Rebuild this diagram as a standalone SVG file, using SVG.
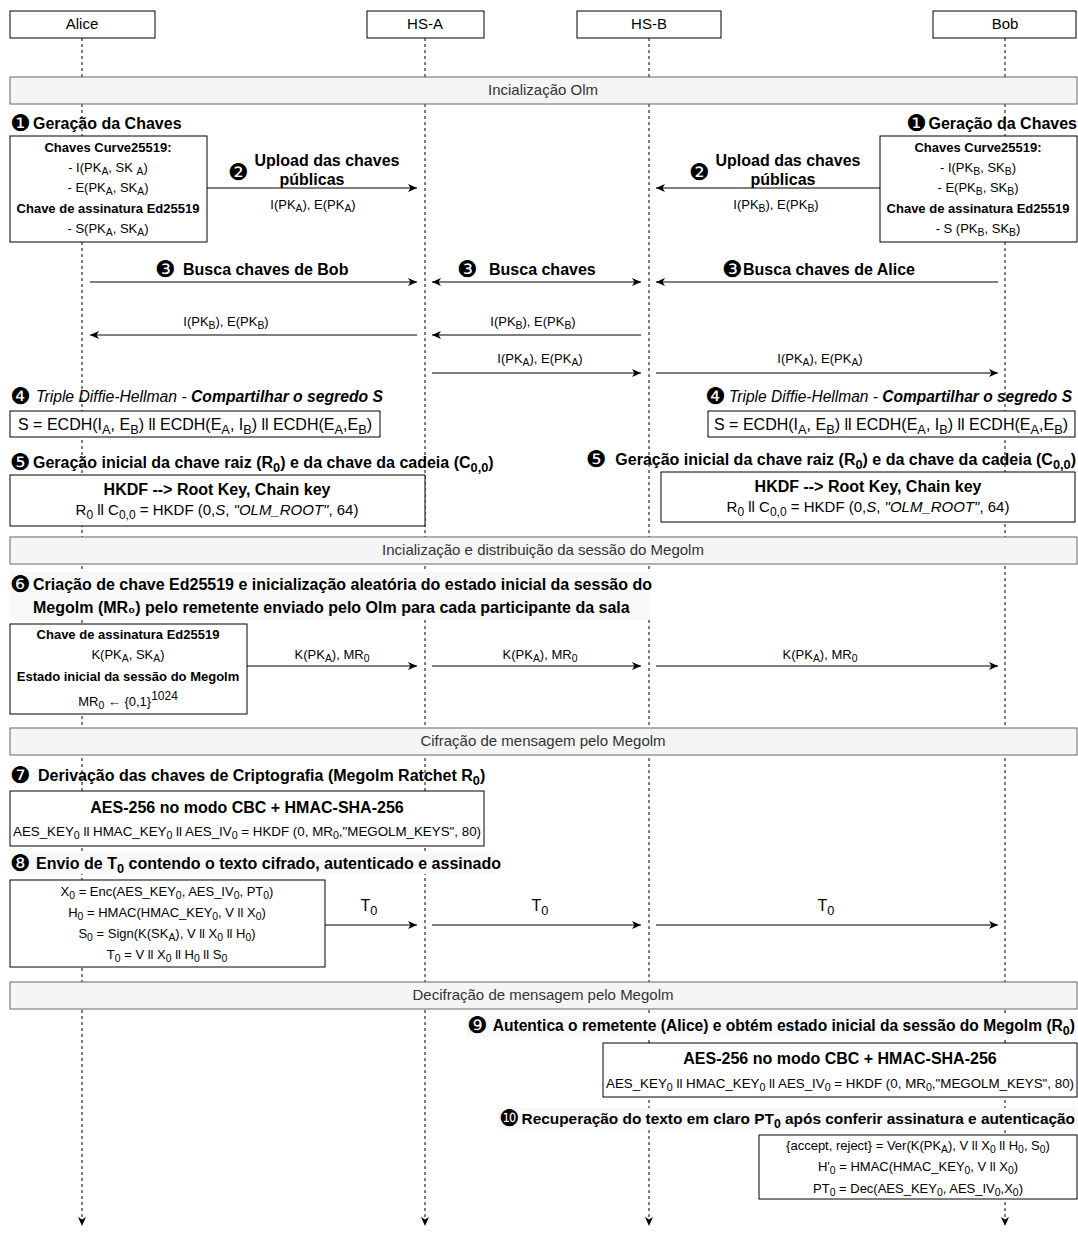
<svg xmlns="http://www.w3.org/2000/svg" width="1078" height="1233" viewBox="0 0 1078 1233">
<style>
  text { font-family: "Liberation Sans", Arial, sans-serif; fill: #000; }
  .hdr { font-size: 15px; text-anchor: middle; }
  .bar { font-size: 15px; text-anchor: middle; fill: #333; }
  .bartxt { fill: #f5f5f5; stroke: #666; stroke-width: 1; }
  .box { fill: #fff; stroke: #000; stroke-width: 1; }
  .ttl { font-size: 16px; font-weight: bold; }
  .num { font-family: "DejaVu Sans", sans-serif; font-size: 23px; }
  .bl { font-size: 13px; text-anchor: middle; }
  .b { font-weight: bold; }
  .c { text-anchor: middle; }
  .lbl { font-size: 13px; text-anchor: middle; }
  .sb { font-size: 80%; baseline-shift: -0.3em; }
  .sp { font-size: 12px; baseline-shift: 6px; }
  .life { stroke: #000; stroke-width: 1; stroke-dasharray: 3 3; fill: none; }
  .msg { stroke: #000; stroke-width: 1; fill: none; marker-end: url(#arr); }
  .tbg { fill: #f8f8f8; }
</style>
<defs>
  <marker id="arr" markerUnits="userSpaceOnUse" markerWidth="10" markerHeight="10" refX="9" refY="5" orient="auto-start-reverse">
    <path d="M0,1 L9,5 L0,9 L2.5,5 z" fill="#000"/>
  </marker>
</defs>
<rect width="1078" height="1233" fill="#fff"/>

<!-- lifelines -->
<g id="lifelines">
  <line class="life" x1="82" y1="38" x2="82" y2="1226" marker-end="url(#arr)"/>
  <line class="life" x1="425" y1="38" x2="425" y2="1226" marker-end="url(#arr)"/>
  <line class="life" x1="649" y1="38" x2="649" y2="1226" marker-end="url(#arr)"/>
  <line class="life" x1="1005" y1="38" x2="1005" y2="1226" marker-end="url(#arr)"/>
</g>

<!-- participants -->
<g id="alice"><rect class="box" x="10" y="11" width="145" height="27"/><text class="hdr" x="82" y="29">Alice</text></g>
<g id="hs-a"><rect class="box" x="367" y="11" width="117" height="27"/><text class="hdr" x="425" y="29">HS-A</text></g>
<g id="hs-b"><rect class="box" x="577" y="11" width="144" height="27"/><text class="hdr" x="649" y="29">HS-B</text></g>
<g id="bob"><rect class="box" x="933" y="11" width="143" height="27"/><text class="hdr" x="1005" y="29">Bob</text></g>

<!-- phase bars -->
<g id="bar-olm"><rect class="bartxt" x="10" y="77" width="1067" height="27"/><text class="bar" x="543" y="95">Incialização Olm</text></g>
<g id="bar-megolm-init"><rect class="bartxt" x="10" y="537" width="1067" height="27"/><text class="bar" x="543" y="555">Incialização e distribuição da sessão do Megolm</text></g>
<g id="bar-enc"><rect class="bartxt" x="10" y="728" width="1067" height="27"/><text class="bar" x="543" y="746">Cifração de mensagem pelo Megolm</text></g>
<g id="bar-dec"><rect class="bartxt" x="10" y="982" width="1067" height="27"/><text class="bar" x="543" y="1000">Decifração de mensagem pelo Megolm</text></g>

<!-- step 1: key generation -->
<g id="step1-alice">
  <text x="10" y="131" class="num">❶</text>
  <text x="33" y="129" class="ttl">Geração da Chaves</text>
  <rect class="box" x="10" y="136" width="197" height="106"/>
  <text class="bl b" x="108" y="152">Chaves Curve25519:</text>
  <text class="bl" x="108" y="172">- I(PK<tspan class="sb">A</tspan>, SK <tspan class="sb">A</tspan>)</text>
  <text class="bl" x="108" y="192">- E(PK<tspan class="sb">A</tspan>, SK<tspan class="sb">A</tspan>)</text>
  <text class="bl b" x="108" y="213">Chave de assinatura Ed25519</text>
  <text class="bl" x="108" y="233">- S(PK<tspan class="sb">A</tspan>, SK<tspan class="sb">A</tspan>)</text>
</g>
<g id="step1-bob">
  <text x="906" y="131" class="num">❶</text>
  <text x="1077" y="129" class="ttl" text-anchor="end">Geração da Chaves</text>
  <rect class="box" x="880" y="136" width="197" height="106"/>
  <text class="bl b" x="978" y="152">Chaves Curve25519:</text>
  <text class="bl" x="978" y="172">- I(PK<tspan class="sb">B</tspan>, SK<tspan class="sb">B</tspan>)</text>
  <text class="bl" x="978" y="192">- E(PK<tspan class="sb">B</tspan>, SK<tspan class="sb">B</tspan>)</text>
  <text class="bl b" x="978" y="213">Chave de assinatura Ed25519</text>
  <text class="bl" x="978" y="233">- S (PK<tspan class="sb">B</tspan>, SK<tspan class="sb">B</tspan>)</text>
</g>

<!-- step 4: triple DH -->
<g id="step4-alice">
  <text x="10" y="404" class="num">❹</text>
  <text x="36" y="402" font-size="16" textLength="347" lengthAdjust="spacingAndGlyphs"><tspan font-style="italic">Triple Diffie-Hellman - </tspan><tspan font-style="italic" font-weight="bold">Compartilhar o segredo S</tspan></text>
  <rect class="box" x="10" y="411" width="370" height="26"/>
  <text x="195" y="430" class="c" font-size="16">S = ECDH(I<tspan class="sb">A</tspan>, E<tspan class="sb">B</tspan>) ll ECDH(E<tspan class="sb">A</tspan>, I<tspan class="sb">B</tspan>) ll ECDH(E<tspan class="sb">A</tspan>,E<tspan class="sb">B</tspan>)</text>
</g>
<g id="step4-bob">
  <text x="705" y="404" class="num">❹</text>
  <text x="729" y="402" font-size="16" textLength="343" lengthAdjust="spacingAndGlyphs"><tspan font-style="italic">Triple Diffie-Hellman - </tspan><tspan font-style="italic" font-weight="bold">Compartilhar o segredo S</tspan></text>
  <rect class="box" x="708" y="411" width="367" height="26"/>
  <text x="891" y="430" class="c" font-size="16">S = ECDH(I<tspan class="sb">A</tspan>, E<tspan class="sb">B</tspan>) ll ECDH(E<tspan class="sb">A</tspan>, I<tspan class="sb">B</tspan>) ll ECDH(E<tspan class="sb">A</tspan>,E<tspan class="sb">B</tspan>)</text>
</g>

<!-- step 5: root and chain key -->
<g id="step5-alice">
  <text x="10" y="470" class="num">❺</text>
  <text x="33" y="468" class="ttl">Geração inicial da chave raiz (R<tspan class="sb">0</tspan>) e da chave da cadeia (C<tspan class="sb">0,0</tspan>)</text>
  <rect class="box" x="10" y="475" width="415" height="51"/>
  <text x="217" y="495" class="c b" font-size="16">HKDF --&gt; Root Key, Chain key</text>
  <text x="217" y="515" class="c" font-size="15">R<tspan class="sb">0</tspan> ll C<tspan class="sb">0,0</tspan> = HKDF (0,<tspan font-style="italic">S</tspan>, <tspan font-style="italic">"OLM_ROOT"</tspan>, 64)</text>
</g>
<g id="step5-bob">
  <text x="586" y="467" class="num">❺</text>
  <text x="1076" y="465" class="ttl" text-anchor="end">Geração inicial da chave raiz (R<tspan class="sb">0</tspan>) e da chave da cadeia (C<tspan class="sb">0,0</tspan>)</text>
  <rect class="box" x="661" y="472" width="414" height="50"/>
  <text x="868" y="492" class="c b" font-size="16">HKDF --&gt; Root Key, Chain key</text>
  <text x="868" y="512" class="c" font-size="15">R<tspan class="sb">0</tspan> ll C<tspan class="sb">0,0</tspan> = HKDF (0,<tspan font-style="italic">S</tspan>, <tspan font-style="italic">"OLM_ROOT"</tspan>, 64)</text>
</g>

<!-- step 6: Megolm session creation -->
<g id="step6-alice">
  <rect class="tbg" x="10" y="572" width="640" height="48"/>
  <text x="10" y="592" class="num">❻</text>
  <text x="33" y="590" class="ttl">Criação de chave Ed25519 e inicialização aleatória do estado inicial da sessão do</text>
  <text x="33" y="613" class="ttl">Megolm (MR₀) pelo remetente enviado pelo Olm para cada participante da sala</text>
  <rect class="box" x="10" y="624" width="237" height="90"/>
  <text class="bl b" x="128" y="639">Chave de assinatura Ed25519</text>
  <text class="bl" x="128" y="659">K(PK<tspan class="sb">A</tspan>, SK<tspan class="sb">A</tspan>)</text>
  <text class="bl b" x="128" y="681">Estado inicial da sessão do Megolm</text>
  <text class="bl" x="128" y="706">MR<tspan class="sb">0</tspan> ← {0,1}<tspan class="sp">1024</tspan></text>
</g>

<!-- step 7: key derivation -->
<g id="step7-alice">
  <text x="10" y="783" class="num">❼</text>
  <text x="38" y="781" class="ttl">Derivação das chaves de Criptografia (Megolm Ratchet R<tspan class="sb">0</tspan>)</text>
  <rect class="box" x="10" y="791" width="474" height="55"/>
  <text x="247" y="813" class="c b" font-size="16">AES-256 no modo CBC + HMAC-SHA-256</text>
  <text x="247" y="836" class="c" font-size="13" textLength="468" lengthAdjust="spacingAndGlyphs">AES_KEY<tspan class="sb">0</tspan> ll HMAC_KEY<tspan class="sb">0</tspan> ll AES_IV<tspan class="sb">0</tspan> = HKDF (0, MR<tspan class="sb">0</tspan>,"MEGOLM_KEYS", 80)</text>
</g>

<!-- step 8: encrypted message -->
<g id="step8-alice">
  <rect class="tbg" x="10" y="853" width="485" height="21"/>
  <text x="10" y="871" class="num">❽</text>
  <text x="36" y="869" class="ttl">Envio de T<tspan class="sb">0</tspan> contendo o texto cifrado, autenticado e assinado</text>
  <rect class="box" x="10" y="880" width="315" height="87"/>
  <text class="bl" x="167" y="896" font-size="11.5">X<tspan class="sb">0</tspan> = Enc(AES_KEY<tspan class="sb">0</tspan>, AES_IV<tspan class="sb">0</tspan>, PT<tspan class="sb">0</tspan>)</text>
  <text class="bl" x="167" y="917" font-size="11.5">H<tspan class="sb">0</tspan> = HMAC(HMAC_KEY<tspan class="sb">0</tspan>, V ll X<tspan class="sb">0</tspan>)</text>
  <text class="bl" x="167" y="938" font-size="11.5">S<tspan class="sb">0</tspan> = Sign(K(SK<tspan class="sb">A</tspan>), V ll X<tspan class="sb">0</tspan> ll H<tspan class="sb">0</tspan>)</text>
  <text class="bl" x="167" y="959" font-size="11.5">T<tspan class="sb">0</tspan> = V ll X<tspan class="sb">0</tspan> ll H<tspan class="sb">0</tspan> ll S<tspan class="sb">0</tspan></text>
</g>

<!-- step 9: authentication at Bob -->
<g id="step9-bob">
  <rect class="tbg" x="466" y="1016" width="611" height="21"/>
  <text x="467" y="1033" class="num">❾</text>
  <text x="1075" y="1031" class="ttl" style="font-size:15.6px" text-anchor="end">Autentica o remetente (Alice) e obtém estado inicial da sessão do Megolm (R<tspan class="sb">0</tspan>)</text>
  <rect class="box" x="603" y="1043" width="474" height="54"/>
  <text x="840" y="1064" class="c b" font-size="16">AES-256 no modo CBC + HMAC-SHA-256</text>
  <text x="840" y="1088" class="c" font-size="13" textLength="468" lengthAdjust="spacingAndGlyphs">AES_KEY<tspan class="sb">0</tspan> ll HMAC_KEY<tspan class="sb">0</tspan> ll AES_IV<tspan class="sb">0</tspan> = HKDF (0, MR<tspan class="sb">0</tspan>,"MEGOLM_KEYS", 80)</text>
</g>

<!-- step 10: decryption at Bob -->
<g id="step10-bob">
  <rect class="tbg" x="498" y="1108" width="579" height="21"/>
  <text x="499" y="1126" class="num">❿</text>
  <text x="1075" y="1124" class="ttl" style="font-size:15.4px" text-anchor="end">Recuperação do texto em claro PT<tspan class="sb">0</tspan> após conferir assinatura e autenticação</text>
  <rect class="box" x="759" y="1135" width="318" height="64"/>
  <text class="bl" x="918" y="1150">{accept, reject} = Ver(K(PK<tspan class="sb">A</tspan>), V ll X<tspan class="sb">0</tspan> ll H<tspan class="sb">0</tspan>, S<tspan class="sb">0</tspan>)</text>
  <text class="bl" x="918" y="1171">H'<tspan class="sb">0</tspan> = HMAC(HMAC_KEY<tspan class="sb">0</tspan>, V ll X<tspan class="sb">0</tspan>)</text>
  <text class="bl" x="918" y="1193">PT<tspan class="sb">0</tspan> = Dec(AES_KEY<tspan class="sb">0</tspan>, AES_IV<tspan class="sb">0</tspan>,X<tspan class="sb">0</tspan>)</text>
</g>

<!-- messages -->
<g id="connectors">
  <!-- step 2: upload of public keys -->
  <line class="msg" x1="207" y1="188" x2="417" y2="188"/>
  <text x="228" y="180" class="num">❷</text>
  <text x="327" y="166" class="ttl c">Upload das chaves</text>
  <text x="312" y="185" class="ttl c">públicas</text>
  <text x="313" y="209" class="lbl">I(PK<tspan class="sb">A</tspan>), E(PK<tspan class="sb">A</tspan>)</text>

  <line class="msg" x1="880" y1="188" x2="656" y2="188"/>
  <text x="689" y="180" class="num">❷</text>
  <text x="788" y="166" class="ttl c">Upload das chaves</text>
  <text x="783" y="185" class="ttl c">públicas</text>
  <text x="776" y="209" class="lbl">I(PK<tspan class="sb">B</tspan>), E(PK<tspan class="sb">B</tspan>)</text>

  <!-- step 3: key lookup -->
  <line class="msg" x1="90" y1="282" x2="417" y2="282"/>
  <text x="155" y="277" class="num">❸</text>
  <text x="183" y="275" class="ttl">Busca chaves de Bob</text>
  <line class="msg" x1="432" y1="282" x2="641" y2="282" marker-start="url(#arr)"/>
  <text x="457" y="277" class="num">❸</text>
  <text x="489" y="275" class="ttl">Busca chaves</text>
  <line class="msg" x1="998" y1="282" x2="656" y2="282"/>
  <text x="722" y="277" class="num">❸</text>
  <text x="743" y="275" class="ttl">Busca chaves de Alice</text>

  <line class="msg" x1="417" y1="335" x2="90" y2="335"/>
  <text x="226" y="326" class="lbl">I(PK<tspan class="sb">B</tspan>), E(PK<tspan class="sb">B</tspan>)</text>
  <line class="msg" x1="641" y1="335" x2="432" y2="335"/>
  <text x="533" y="326" class="lbl">I(PK<tspan class="sb">B</tspan>), E(PK<tspan class="sb">B</tspan>)</text>

  <line class="msg" x1="432" y1="373" x2="641" y2="373"/>
  <text x="540" y="363" class="lbl">I(PK<tspan class="sb">A</tspan>), E(PK<tspan class="sb">A</tspan>)</text>
  <line class="msg" x1="656" y1="373" x2="998" y2="373"/>
  <text x="820" y="363" class="lbl">I(PK<tspan class="sb">A</tspan>), E(PK<tspan class="sb">A</tspan>)</text>

  <!-- step 6: session key distribution -->
  <line class="msg" x1="247" y1="666" x2="417" y2="666"/>
  <text x="332" y="659" class="lbl">K(PK<tspan class="sb">A</tspan>), MR<tspan class="sb">0</tspan></text>
  <line class="msg" x1="432" y1="666" x2="641" y2="666"/>
  <text x="540" y="659" class="lbl">K(PK<tspan class="sb">A</tspan>), MR<tspan class="sb">0</tspan></text>
  <line class="msg" x1="656" y1="666" x2="998" y2="666"/>
  <text x="820" y="659" class="lbl">K(PK<tspan class="sb">A</tspan>), MR<tspan class="sb">0</tspan></text>

  <!-- step 8: message T0 -->
  <line class="msg" x1="325" y1="925" x2="417" y2="925"/>
  <text x="369" y="911" font-size="16" class="c">T<tspan class="sb">0</tspan></text>
  <line class="msg" x1="432" y1="925" x2="641" y2="925"/>
  <text x="540" y="911" font-size="16" class="c">T<tspan class="sb">0</tspan></text>
  <line class="msg" x1="656" y1="925" x2="998" y2="925"/>
  <text x="826" y="911" font-size="16" class="c">T<tspan class="sb">0</tspan></text>
</g>
</svg>
